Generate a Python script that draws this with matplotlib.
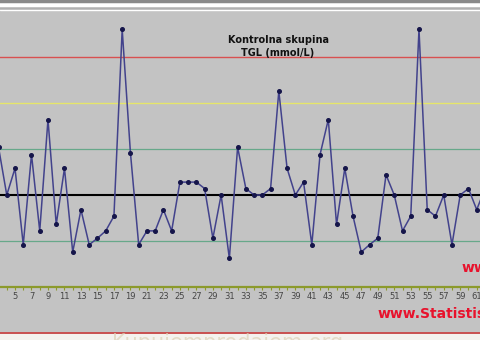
# control chart - Kontrolna skupina, TGL
import numpy as np
import matplotlib
matplotlib.use("Agg")
import matplotlib.pyplot as plt
from matplotlib.ticker import MultipleLocator

# data (mmol/L), subject index 3..62 (left/right of the crop cut off)
subjects = list(range(3, 63))
tgl = [2.02, 1.50, 1.79, 0.96, 1.94, 1.11, 2.32, 1.18, 1.79, 0.88,
       1.34, 0.96, 1.03, 1.11, 1.27, 3.30, 1.96, 0.96, 1.11, 1.11,
       1.34, 1.11, 1.64, 1.64, 1.64, 1.57, 1.03, 1.50, 0.81, 2.02,
       1.57, 1.50, 1.50, 1.57, 2.63, 1.79, 1.50, 1.64, 0.96, 1.94,
       2.32, 1.18, 1.79, 1.27, 0.88, 0.96, 1.03, 1.72, 1.50, 1.11,
       1.27, 3.30, 1.34, 1.27, 1.50, 0.96, 1.50, 1.57, 1.34, 1.57]
mean_tgl = 1.5
sd_tgl = 0.5

fig = plt.figure(figsize=(4.8, 3.4), dpi=100)
ax = fig.add_axes([0, 0, 1, 1])
ax.set_facecolor('#c3c3c3')
fig.patch.set_facecolor('#c3c3c3')

ax.set_xlim(3.18, 61.4)
ax.set_ylim(mean_tgl - 145 / 92, mean_tgl + 195 / 92)

# top white strip with frame lines
top = mean_tgl + 195 / 92
ax.axhspan(top - 10 / 92, top, color='white', zorder=0)
ax.axhline(top - 1.5 / 92, color='#8a8a8a', lw=2.5)
ax.axhline(top - 8.5 / 92, color='#b0b0b0', lw=1.8)

# bottom white strip under the -3 sd line
ax.axhspan(mean_tgl - 3 * sd_tgl - 0.2, mean_tgl - 3 * sd_tgl, color='#f4f2ee', zorder=0)

# control limits
ax.axhline(mean_tgl + 3 * sd_tgl, color='#d85050', lw=1.0)
ax.axhline(mean_tgl - 3 * sd_tgl, color='#c85050', lw=1.4)
ax.axhline(mean_tgl + 2 * sd_tgl, color='#e6e66a', lw=1.0)
ax.axhline(mean_tgl + sd_tgl, color='#67a88a', lw=0.9)
ax.axhline(mean_tgl - sd_tgl, color='#67a88a', lw=0.9)
ax.axhline(mean_tgl, color='black', lw=1.5)

ax.plot(subjects, tgl, color='#42428c', lw=1.1, marker='o', ms=2.6,
        mfc='#15154a', mec='#15154a', zorder=5)

# x axis at -2 sd (olive line), labels on odd numbers
for s in ['top', 'right', 'left']:
    ax.spines[s].set_visible(False)
ax.spines['bottom'].set_position(('data', mean_tgl - 2 * sd_tgl))
ax.spines['bottom'].set_color('#8c9a2c')
ax.spines['bottom'].set_linewidth(1.6)
ax.xaxis.set_major_locator(MultipleLocator(2, offset=1))
ax.xaxis.set_minor_locator(MultipleLocator(1))
ax.tick_params(axis='x', which='both', direction='out', length=2, width=0.8,
               color='#8c9a2c', labelsize=6, labelcolor='#454545', pad=1.5)
ax.set_yticks([])

fig.text(278 / 480, 1 - 40 / 340, 'Kontrolna skupina', ha='center', va='center',
         fontsize=7, fontweight='bold', color='#111111')
fig.text(278 / 480, 1 - 53 / 340, 'TGL (mmol/L)', ha='center', va='center',
         fontsize=7, fontweight='bold', color='#111111')

# logos / watermark (cut off at the edges, as in the crop)
fig.text(378 / 480, 1 - 314 / 340, 'www.Statistisoft.com', ha='left', va='center',
         fontsize=10, fontweight='bold', color='#e8122c')
fig.text(462 / 480, 1 - 268 / 340, 'www.Statistisoft.com', ha='left', va='center',
         fontsize=10, fontweight='bold', color='#e8122c')
fig.text(112 / 480, 1 - 333 / 340, 'Kupujemprodajem.org', ha='left', va='top',
         fontsize=15, color='#ddd2b8', alpha=0.7)

fig.savefig('out.png', dpi=100, facecolor=fig.get_facecolor())
